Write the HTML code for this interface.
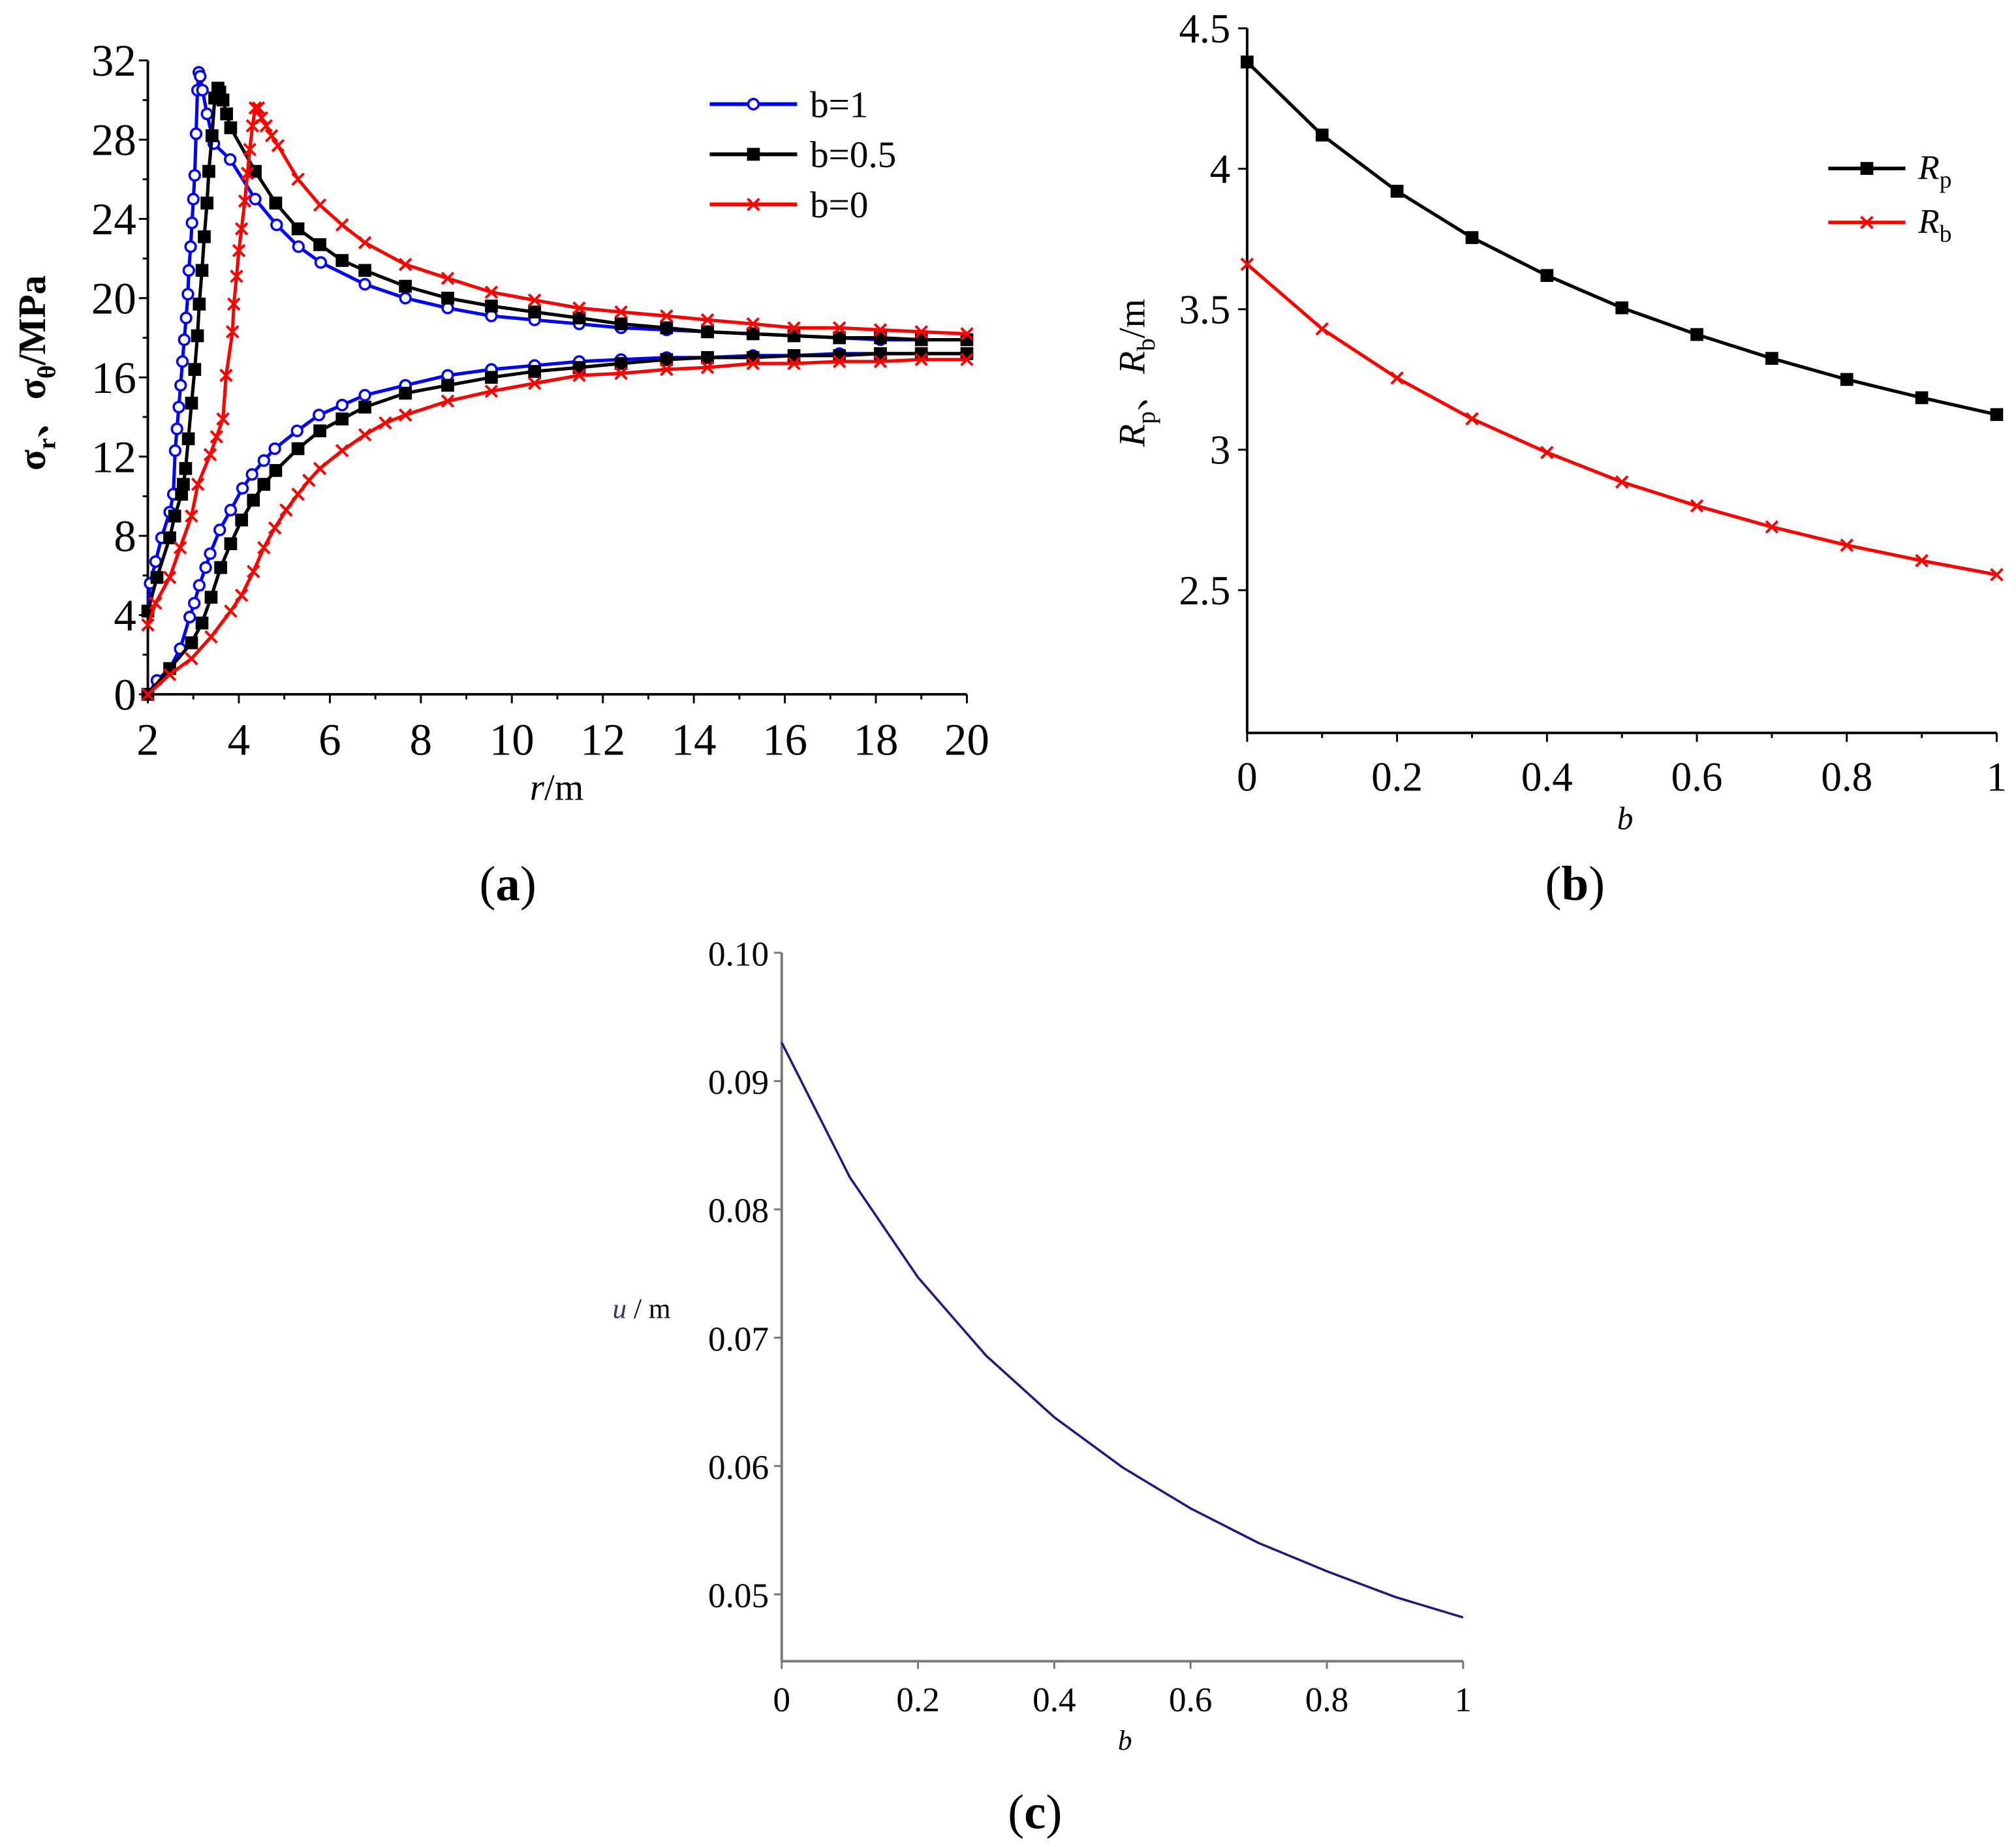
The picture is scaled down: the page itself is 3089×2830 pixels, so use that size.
<!DOCTYPE html>
<html><head><meta charset="utf-8"><style>
html,body{margin:0;padding:0;background:#fff}
svg{display:block}
text{font-family:"Liberation Serif","Noto Serif CJK SC",serif;fill:#000}
</style></head><body>
<svg id="fig" width="3089" height="2830" viewBox="0 0 1568 1436.5" preserveAspectRatio="none">
<g id="pa"></g>
<g id="pb"></g>
<g id="pc"></g>
</svg>
<script>
// ---------- Panel (a) data ----------
const aXTicks=[2,4,6,8,10,12,14,16,18,20];
const aYTicks=[0,4,8,12,16,20,24,28,32];
const b1UpR=[2,2.05,2.17,2.3,2.48,2.56,2.6,2.64,2.68,2.72,2.76,2.8,2.84,2.88,2.9,2.94,2.97,3.0,3.03,3.06,3.09,3.12,3.15,3.2,3.3,3.45,3.81,4.36,4.83,5.31,5.8,6.77,7.66,8.59,9.55,10.5,11.48,12.4,13.4,14.3,15.3,16.2,17.2,18.1,19.0,20];
const b1UpV=[4.2,5.6,6.7,7.9,9.2,10.1,12.3,13.4,14.5,15.6,16.8,17.9,19.0,20.2,21.4,22.6,23.8,25.0,26.2,28.3,30.5,31.4,31.2,30.5,29.3,27.8,27.0,25.0,23.7,22.6,21.8,20.7,20.0,19.5,19.1,18.9,18.7,18.5,18.4,18.3,18.2,18.1,18.0,17.9,17.9,17.9];
const b05UpR=[2.0,2.2,2.48,2.59,2.74,2.78,2.83,2.89,2.96,3.03,3.09,3.13,3.19,3.24,3.30,3.34,3.41,3.47,3.54,3.58,3.65,3.73,3.82,4.36,4.81,5.3,5.78,6.27,6.77,7.66,8.59,9.55,10.5,11.48,12.4,13.4,14.3,15.3,16.2,17.2,18.1,19.0,20];
const b05UpV=[4.2,5.9,7.9,9.0,10.1,10.6,11.4,12.9,14.7,16.4,18.1,19.7,21.4,23.1,24.8,26.4,28.2,30.1,30.6,30.4,30.0,29.3,28.6,26.4,24.8,23.5,22.7,21.9,21.4,20.6,20.0,19.6,19.3,19.0,18.7,18.5,18.3,18.2,18.1,18.0,18.0,17.9,17.9];
const b0UpR=[2.0,2.17,2.48,2.71,2.96,3.1,3.37,3.51,3.65,3.72,3.86,3.89,3.95,4.0,4.06,4.13,4.19,4.24,4.3,4.36,4.43,4.5,4.6,4.72,4.86,5.3,5.78,6.27,6.77,7.66,8.59,9.55,10.5,11.48,12.4,13.4,14.3,15.3,16.2,17.2,18.1,19.0,20];
const b0UpV=[3.5,4.6,5.9,7.4,9.0,10.6,12.1,13.0,13.9,16.1,18.3,19.7,21.1,22.4,23.5,24.9,26.3,27.5,28.7,29.6,29.6,29.1,28.7,28.2,27.7,26.0,24.7,23.7,22.8,21.7,21.0,20.3,19.9,19.5,19.3,19.1,18.9,18.7,18.5,18.5,18.4,18.3,18.2];
const b1LoR=[2,2.2,2.48,2.71,2.92,3.02,3.13,3.27,3.37,3.58,3.82,4.08,4.29,4.55,4.79,5.28,5.76,6.27,6.77,7.66,8.59,9.55,10.5,11.48,12.4,13.4,14.3,15.3,16.2,17.2,18.1,19,20];
const b1LoV=[0,0.7,1.3,2.3,3.9,4.6,5.5,6.4,7.1,8.3,9.3,10.4,11.1,11.8,12.4,13.3,14.1,14.6,15.1,15.6,16.1,16.4,16.6,16.8,16.9,17.0,17.0,17.1,17.1,17.2,17.2,17.2,17.2];
const b05LoR=[2,2.48,2.96,3.19,3.39,3.6,3.82,4.06,4.32,4.55,4.81,5.3,5.78,6.27,6.77,7.66,8.59,9.55,10.5,11.48,12.4,13.4,14.3,15.3,16.2,17.2,18.1,19,20];
const b05LoV=[0,1.3,2.6,3.6,4.9,6.4,7.6,8.8,9.8,10.6,11.3,12.4,13.3,13.9,14.5,15.2,15.6,16.0,16.3,16.5,16.7,16.9,17.0,17.0,17.1,17.1,17.2,17.2,17.2];
const b0LoR=[2,2.48,2.96,3.39,3.82,4.06,4.32,4.55,4.79,5.04,5.3,5.54,5.78,6.27,6.77,7.22,7.66,8.59,9.55,10.5,11.48,12.4,13.4,14.3,15.3,16.2,17.2,18.1,19,20];
const b0LoV=[0,1.0,1.8,2.9,4.2,5.0,6.2,7.4,8.4,9.3,10.1,10.8,11.4,12.3,13.1,13.7,14.1,14.8,15.3,15.7,16.1,16.2,16.4,16.5,16.7,16.7,16.8,16.8,16.9,16.9];
const aLegend=["b=1","b=0.5","b=0"];
// ---------- Panel (b) data ----------
const bX=[0,0.1,0.2,0.3,0.4,0.5,0.6,0.7,0.8,0.9,1];
const rpVals=[4.38,4.12,3.92,3.755,3.62,3.505,3.41,3.325,3.25,3.185,3.125];
const rbVals=[3.66,3.43,3.255,3.11,2.99,2.885,2.80,2.725,2.66,2.605,2.555];
const bXTicks=["0","0.2","0.4","0.6","0.8","1"];
const bYTicks=["2.5","3","3.5","4","4.5"];
// ---------- Panel (c) data ----------
const cX=[0,0.1,0.2,0.3,0.4,0.5,0.6,0.7,0.8,0.9,1];
const uVals=[0.093,0.0825,0.0747,0.0686,0.0638,0.0599,0.0567,0.0540,0.0518,0.0498,0.0482];
const cXTicks=["0","0.2","0.4","0.6","0.8","1"];
const cYTicks=["0.05","0.06","0.07","0.08","0.09","0.10"];

const NS="http://www.w3.org/2000/svg";
function mk(parent,tag,attrs,txt){const e=document.createElementNS(NS,tag);for(const k in attrs)e.setAttribute(k,attrs[k]);if(txt!==undefined)e.textContent=txt;parent.appendChild(e);return e;}
function marker(g,type,x,y,color){
  let e;
  if(type==='o'){e=mk(g,'circle',{cx:x,cy:y,r:4,fill:'#fff',stroke:color,'stroke-width':1.8});}
  else if(type==='s'){e=mk(g,'rect',{x:x-5,y:y-5,width:10,height:10,fill:color});}
  else {e=mk(g,'path',{d:`M${x-4.5},${y-4.5}L${x+4.5},${y+4.5}M${x-4.5},${y+4.5}L${x+4.5},${y-4.5}`,stroke:color,'stroke-width':2,fill:'none'});}
  
  
}
function series(g,xs,ys,fx,fy,color,type,name,w){
  const sg=mk(g,'g',{});
  
  
  const d=xs.map((x,i)=>(i?'L':'M')+fx(x).toFixed(2)+','+fy(ys[i]).toFixed(2)).join('');
  const p=mk(sg,'path',{d:d,fill:'none',stroke:color,'stroke-width':w||2.6,'stroke-linejoin':'round'});
  
  
  if(type) xs.forEach((x,i)=>marker(sg,type,fx(x),fy(ys[i]),color));
}

// ===== Panel A =====
(function(){
  const g=document.getElementById('pa');
  const fx=r=>115+(r-2)*(637/18), fy=v=>540-v*(493/32);
  const ax=mk(g,'g',{});  
  mk(ax,'line',{x1:fx(2),y1:fy(0),x2:fx(20),y2:fy(0),stroke:'#000','stroke-width':2});
  mk(ax,'line',{x1:fx(2),y1:fy(0),x2:fx(2),y2:fy(32),stroke:'#000','stroke-width':2});
  for(let r=2;r<=20;r++){mk(ax,'line',{x1:fx(r),y1:fy(0),x2:fx(r),y2:fy(0)+(r%2?4:7),stroke:'#000','stroke-width':1.5});}
  aXTicks.forEach(t=>{const e=mk(ax,'text',{x:fx(t),y:587,'font-size':35,'text-anchor':'middle'},t);});
  for(let v=0;v<=32;v+=2){mk(ax,'line',{x1:fx(2),y1:fy(v),x2:fx(2)-(v%4?4:7),y2:fy(v),stroke:'#000','stroke-width':1.5});}
  aYTicks.forEach(t=>{const e=mk(ax,'text',{x:106,y:fy(t)+12,'font-size':35,'text-anchor':'end'},t);});
  const xt=mk(g,'text',{x:433,y:622,'font-size':29,'text-anchor':'middle'});
  
  xt.innerHTML='<tspan font-style="italic">r</tspan>/m';
  const yt=mk(g,'text',{transform:'translate(35,290) rotate(-90)','font-size':30,'text-anchor':'middle','font-weight':'bold'});
  
  yt.innerHTML='σ<tspan font-size="20" dy="8">r</tspan><tspan dy="-8">、σ</tspan><tspan font-size="20" dy="8">θ</tspan><tspan dy="-8">/MPa</tspan>';
  series(g,b1UpR,b1UpV,fx,fy,'#0000ff','o','series-b1-sigma-theta');
  series(g,b05UpR,b05UpV,fx,fy,'#000','s','series-b05-sigma-theta');
  series(g,b0UpR,b0UpV,fx,fy,'#ff0000','x','series-b0-sigma-theta');
  series(g,b1LoR,b1LoV,fx,fy,'#0000ff','o','series-b1-sigma-r');
  series(g,b05LoR,b05LoV,fx,fy,'#000','s','series-b05-sigma-r');
  series(g,b0LoR,b0LoV,fx,fy,'#ff0000','x','series-b0-sigma-r');
  const cols=['#0000ff','#000','#ff0000'],types=['o','s','x'];
  aLegend.forEach((l,i)=>{
    const lg=mk(g,'g',{});
    const y=81+i*39;
    mk(lg,'line',{x1:552,y1:y,x2:620,y2:y,stroke:cols[i],'stroke-width':3});
    marker(lg,types[i],586,y,cols[i]);
    mk(lg,'text',{x:630,y:y+10,'font-size':29},l);
  });
  const cap=mk(g,'text',{x:395,y:700,'font-size':38,'text-anchor':'middle'});
  
  cap.innerHTML='(<tspan font-weight="bold">a</tspan>)';
})();

// ===== Panel B =====
(function(){
  const g=document.getElementById('pb');
  const fx=b=>970+b*583, fy=v=>459-(v-2.5)*(437/2);
  const ax=mk(g,'g',{});  
  mk(ax,'line',{x1:fx(0),y1:570,x2:fx(1),y2:570,stroke:'#000','stroke-width':2});
  mk(ax,'line',{x1:fx(0),y1:570,x2:fx(0),y2:fy(4.5),stroke:'#000','stroke-width':2});
  for(let i=0;i<=10;i++){mk(ax,'line',{x1:fx(i/10),y1:570,x2:fx(i/10),y2:570+(i%2?4:7),stroke:'#000','stroke-width':1.5});}
  bXTicks.forEach(t=>{const e=mk(ax,'text',{x:fx(+t),y:615,'font-size':32,'text-anchor':'middle'},t);});
  bYTicks.forEach(t=>{mk(ax,'line',{x1:fx(0),y1:fy(+t),x2:fx(0)-7,y2:fy(+t),stroke:'#000','stroke-width':1.5});const e=mk(ax,'text',{x:957,y:fy(+t)+11,'font-size':32,'text-anchor':'end'},t);});
  const xt=mk(g,'text',{x:1264,y:645,'font-size':25,'text-anchor':'middle','font-style':'italic'},'b');
  
  const yt=mk(g,'text',{transform:'translate(890,290) rotate(-90)','font-size':29,'text-anchor':'middle'});
  
  yt.innerHTML='<tspan font-style="italic">R</tspan><tspan font-size="20" dy="8">p</tspan><tspan dy="-8">、</tspan><tspan font-style="italic">R</tspan><tspan font-size="20" dy="8">b</tspan><tspan dy="-8">/m</tspan>';
  series(g,bX,rpVals,fx,fy,'#000','s','series-rp',2.6);
  series(g,bX,rbVals,fx,fy,'#ff0000','x','series-rb',2.6);
  [['R','p','#000','s',139],['R','b','#ff0000','x',181]].forEach(a=>{
    const lg=mk(g,'g',{});
    mk(lg,'line',{x1:1422,y1:a[4]-8,x2:1482,y2:a[4]-8,stroke:a[2],'stroke-width':2.8});
    marker(lg,a[3],1452,a[4]-8,a[2]);
    const t=mk(lg,'text',{x:1492,y:a[4],'font-size':27});
    t.innerHTML='<tspan font-style="italic">'+a[0]+'</tspan><tspan font-size="19" dy="7">'+a[1]+'</tspan>';
  });
  const cap=mk(g,'text',{x:1225,y:700,'font-size':38,'text-anchor':'middle'});
  
  cap.innerHTML='(<tspan font-weight="bold">b</tspan>)';
})();

// ===== Panel C =====
(function(){
  const g=document.getElementById('pc');
  const fx=b=>608+b*530, fy=v=>1240-(v-0.05)*(499/0.05);
  const ax=mk(g,'g',{});  
  mk(ax,'line',{x1:fx(0),y1:1292,x2:fx(1),y2:1292,stroke:'#777','stroke-width':2});
  mk(ax,'line',{x1:fx(0),y1:1292,x2:fx(0),y2:fy(0.10),stroke:'#777','stroke-width':2});
  cXTicks.forEach(t=>{mk(ax,'line',{x1:fx(+t),y1:1292,x2:fx(+t),y2:1298,stroke:'#777','stroke-width':1.5});});
  cXTicks.forEach(t=>{const e=mk(ax,'text',{x:fx(+t),y:1331,'font-size':27,'text-anchor':'middle'},t);});
  cYTicks.forEach(t=>{mk(ax,'line',{x1:fx(0),y1:fy(+t),x2:fx(0)-6,y2:fy(+t),stroke:'#777','stroke-width':1.5});const e=mk(ax,'text',{x:598,y:fy(+t)+10,'font-size':27,'text-anchor':'end'},t);});
  const xt=mk(g,'text',{x:875,y:1361,'font-size':22,'text-anchor':'middle','font-style':'italic','fill':'#333366'},'b');
  
  const yt=mk(g,'text',{x:499,y:1025,'font-size':22,'text-anchor':'middle'});
  
  yt.innerHTML='<tspan font-style="italic" fill="#333366">u</tspan> / m';
  series(g,cX,uVals,fx,fy,'#1a1a80',null,'series-u',1.8);
  const cap=mk(g,'text',{x:805,y:1422,'font-size':38,'text-anchor':'middle'});
  
  cap.innerHTML='(<tspan font-weight="bold">c</tspan>)';
})();
</script>
</body></html>
